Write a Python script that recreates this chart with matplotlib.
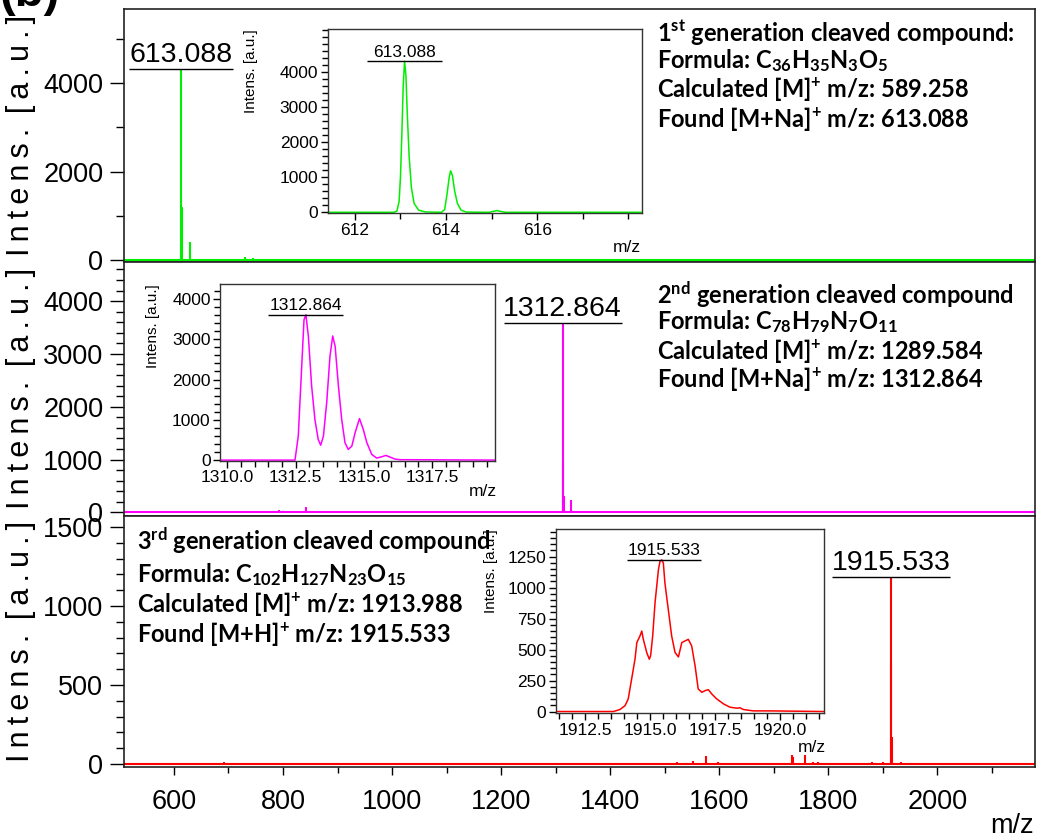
import numpy as np
import matplotlib
matplotlib.use('Agg')
import matplotlib.pyplot as plt
from matplotlib.ticker import MultipleLocator, FixedLocator, FormatStrFormatter

plt.rcParams['mathtext.fontset'] = 'custom'
plt.rcParams['mathtext.bf'] = 'Lato:bold'
plt.rcParams['mathtext.rm'] = 'Lato:bold'
plt.rcParams['mathtext.default'] = 'bf'
font = 'Liberation Sans'

#---------------------------full range spectra (stick peaks)-------------------------
mz1 = [613.088, 614.09, 615.1, 629.06, 730.0, 745.6]
int1 = [4310, 1200, 90, 400, 60, 50]
mz2 = [793.0, 842.0, 1312.864, 1313.87, 1314.85, 1328.8]
int2 = [40, 110, 3585, 930, 300, 233]
mz3 = [692, 1523, 1552, 1576, 1598, 1733, 1736, 1757, 1771, 1781, 1880, 1900,
       1914.6, 1915.533, 1917.4, 1934]
int3 = [10, 10, 21, 53, 15, 59, 45, 59, 10, 10, 10, 10, 640, 1180, 173, 15]

#---------------------------zoomed isotope patterns-----------------------------
zmz1 = [611.4, 612.85, 612.92, 612.97, 613.0, 613.03, 613.06, 613.09, 613.12, 613.15,
        613.19, 613.24, 613.3, 613.4, 613.55, 613.9, 613.97, 614.02, 614.07, 614.1,
        614.14, 614.19, 614.25, 614.33, 614.45, 614.95, 615.05, 615.12, 615.2, 615.3, 618.3]
zint1 = [0, 0, 30, 300, 1000, 2200, 3600, 4300, 3900, 2800,
         1600, 700, 250, 60, 10, 0, 80, 500, 1000, 1180,
         1050, 600, 250, 60, 5, 0, 30, 50, 25, 0, 0]

zmz2 = [1309.75, 1312.48, 1312.60, 1312.72, 1312.81, 1312.88, 1312.97, 1313.09, 1313.21,
        1313.33, 1313.42, 1313.52, 1313.64, 1313.76, 1313.86, 1313.95, 1314.07, 1314.19,
        1314.31, 1314.43, 1314.56, 1314.68, 1314.84, 1314.98, 1315.11, 1315.29, 1315.47,
        1315.66, 1315.81, 1315.96, 1316.14, 1316.33, 1319.81]
zint2 = [0, 0, 594, 2245, 3483, 3606, 3069, 1832, 1007,
         512, 370, 594, 1421, 2574, 3080, 2822, 1832, 1007,
         431, 265, 347, 678, 1030, 760, 431, 141, 50,
         84, 116, 74, 25, 10, 0]

zmz3 = [1911.41, 1913.59, 1913.84, 1914.04, 1914.16, 1914.29, 1914.42, 1914.49, 1914.61,
        1914.68, 1914.74, 1914.87, 1914.97, 1915.02, 1915.10, 1915.19, 1915.32, 1915.38,
        1915.45, 1915.51, 1915.57, 1915.70, 1915.83, 1915.96, 1916.09, 1916.22, 1916.34,
        1916.47, 1916.60, 1916.73, 1916.85, 1916.99, 1917.11, 1917.24, 1917.37, 1917.56,
        1917.82, 1918.07, 1918.33, 1918.46, 1918.59, 1918.97, 1919.61, 1921.66]
zint3 = [0, 0, 16, 48, 102, 262, 422, 556, 609,
         649, 582, 476, 422, 449, 609, 877, 1143, 1210,
         1223, 1197, 1037, 823, 609, 476, 440, 556, 569,
         582, 529, 369, 182, 155, 168, 176, 142, 102,
         62, 35, 27, 30, 16, 5, 5, 0]

# labelled tick values of the zoom windows
inset_xticks = [[612, 614, 616], [1310.0, 1312.5, 1315.0, 1317.5], [1912.5, 1915.0, 1917.5, 1920.0]]
inset_yticks = [[0, 1000, 2000, 3000, 4000], [0, 1000, 2000, 3000, 4000],
                [0, 250, 500, 750, 1000, 1250]]

peak_text = ['613.088', '1312.864', '1915.533']
info = [
    ['1$^{st}$ generation cleaved compound:',
     'Formula: C$_{36}$H$_{35}$N$_{3}$O$_{5}$',
     'Calculated [M]$^{+}$ m/z: 589.258',
     'Found [M+Na]$^{+}$ m/z: 613.088'],
    ['2$^{nd}$ generation cleaved compound',
     'Formula: C$_{78}$H$_{79}$N$_{7}$O$_{11}$',
     'Calculated [M]$^{+}$ m/z: 1289.584',
     'Found [M+Na]$^{+}$ m/z: 1312.864'],
    ['3$^{rd}$ generation cleaved compound',
     'Formula: C$_{102}$H$_{127}$N$_{23}$O$_{15}$',
     'Calculated [M]$^{+}$ m/z: 1913.988',
     'Found [M+H]$^{+}$ m/z: 1915.533'],
]

colors = ['#00ee00', '#ff00ff', '#ff0000']

W, H = 1039, 839
fig = plt.figure(figsize=(W / 100, H / 100), dpi=100)

def px(x0, y0, x1, y1):
    # pixel box -> figure fraction rect
    return [x0 / W, 1 - y1 / H, (x1 - x0) / W, (y1 - y0) / H]

def tag_peak(ax, mz, top, text, half, size, gap=2):
    ax.hlines(top, mz - half, mz + half, color='black', lw=1)
    ax.annotate(text, (mz, top), xytext=(0, gap), textcoords='offset points',
                ha='center', va='bottom', fontsize=size, family=font)

ylab = '\u2009'.join('Intens.') + '\u2009 ' + '\u2009'.join('[a.u.]')

edges = [9.3, 262, 515.7, 767]
ylims = [(-45, 5666), (-64, 4740), (-19, 1571)]
ymaj = [2000, 1000, 500]
ymin = [1000, 200, 100]
sticks = [(mz1, int1), (mz2, int2), (mz3, int3)]
half_main = [95, 108, 108]

for i in range(3):
    ax = fig.add_axes(px(124.3, edges[i], 1035, edges[i + 1]))
    mz, inten = sticks[i]
    ax.axhline(0, color=colors[i], lw=1.5, zorder=2)
    ax.vlines(mz, 0, inten, color=colors[i], lw=1.5, zorder=2)
    ax.set_xlim(509, 2179)
    ax.set_ylim(*ylims[i])
    ax.yaxis.set_major_locator(MultipleLocator(ymaj[i]))
    ax.yaxis.set_minor_locator(MultipleLocator(ymin[i]))
    ax.xaxis.set_major_locator(MultipleLocator(200))
    ax.xaxis.set_minor_locator(MultipleLocator(100))
    ax.tick_params(axis='y', which='major', direction='out', length=10, width=1,
                   labelsize=19.5, pad=5)
    ax.tick_params(axis='y', which='minor', direction='out', length=6, width=1)
    ax.tick_params(axis='x', which='major', direction='out', length=6, width=1,
                   labelsize=19.5, pad=10)
    ax.tick_params(axis='x', which='minor', direction='out', length=4, width=1)
    for lab in ax.get_yticklabels() + ax.get_xticklabels():
        lab.set_family(font)
    if i < 2:
        ax.tick_params(axis='x', which='both', bottom=False, labelbottom=False)
    for s in ax.spines.values():
        s.set_linewidth(1.2)
        s.set_color('#222222')
    ax.set_ylabel(ylab, fontsize=22, family=font)
    ax.yaxis.set_label_coords(-0.097, 0.5)
    tag_peak(ax, mz[int(np.argmax(inten))], max(inten), peak_text[i], half_main[i], 20.5, gap=1)

fig.text(1012 / W, 1 - 826 / H, 'm/z', fontsize=19.5, family=font, ha='center', va='center')

#---------------------------insets-----------------------------
inset_box = [(328, 29, 642, 213), (220.4, 284, 495, 460.7), (555.7, 529, 824.3, 713)]
inset_x = [(611.41, 618.3), (1309.75, 1319.8), (1911.37, 1921.7)]
inset_y = [(-20, 5220), (-15, 4370), (-12, 1472)]
inset_xmin = [1, 0.5, 0.5]
inset_ymin = [200, 200, 50]
inset_fmt = ['%d', '%.1f', '%.1f']
inset_lab = [(-0.223, 1.0), (-0.22, 1.0), (-0.215, 1.0)]
inset_half = [0.82, 1.39, 1.42]
inset_top = [4300, 3606, 1223]
inset_mz = [(627, 247), (483, 492), (812, 747)]
zoom_data = [(zmz1, zint1), (zmz2, zint2), (zmz3, zint3)]
peak_mz = [613.088, 1312.864, 1915.533]

for i in range(3):
    ins = fig.add_axes(px(*inset_box[i]))
    zx, zy = zoom_data[i]
    ins.plot(zx, zy, color=colors[i], lw=1.1)
    ins.set_xlim(*inset_x[i])
    ins.set_ylim(*inset_y[i])
    ins.xaxis.set_major_locator(FixedLocator(inset_xticks[i]))
    ins.xaxis.set_minor_locator(MultipleLocator(inset_xmin[i]))
    ins.yaxis.set_major_locator(FixedLocator(inset_yticks[i]))
    ins.yaxis.set_minor_locator(MultipleLocator(inset_ymin[i]))
    ins.xaxis.set_major_formatter(FormatStrFormatter(inset_fmt[i]))
    ins.tick_params(which='major', direction='out', length=5, width=1, labelsize=12.5, pad=2)
    ins.tick_params(which='minor', direction='out', length=4, width=1)
    for lab in ins.get_yticklabels() + ins.get_xticklabels():
        lab.set_family(font)
    for s in ins.spines.values():
        s.set_linewidth(1.0)
        s.set_color('#333333')
    ins.set_ylabel('Intens. [a.u.]', fontsize=11, family=font, loc='top')
    ins.yaxis.set_label_coords(*inset_lab[i])
    tag_peak(ins, peak_mz[i], inset_top[i], peak_text[i], inset_half[i], 12.5, gap=1)
    fig.text(inset_mz[i][0] / W, 1 - inset_mz[i][1] / H, 'm/z', fontsize=12.5,
             family=font, ha='center', va='center')

#---------------------------compound notes-----------------------------
note_x = [657, 657, 137]
note_y = [[41, 68, 97, 127], [304, 329, 359, 387], [550, 582, 612, 642]]
for i in range(3):
    for j, line in enumerate(info[i]):
        fig.text(note_x[i] / W, 1 - note_y[i][j] / H, line, fontsize=17,
                 family='Lato', fontweight='bold', ha='left', va='baseline')

# panel letter cut off at the top of the original figure
fig.text(0.0, 1 - 6 / H, '(b)', fontsize=34, fontweight='bold', family=font,
         ha='left', va='baseline')

fig.savefig('out.png', dpi=100)
